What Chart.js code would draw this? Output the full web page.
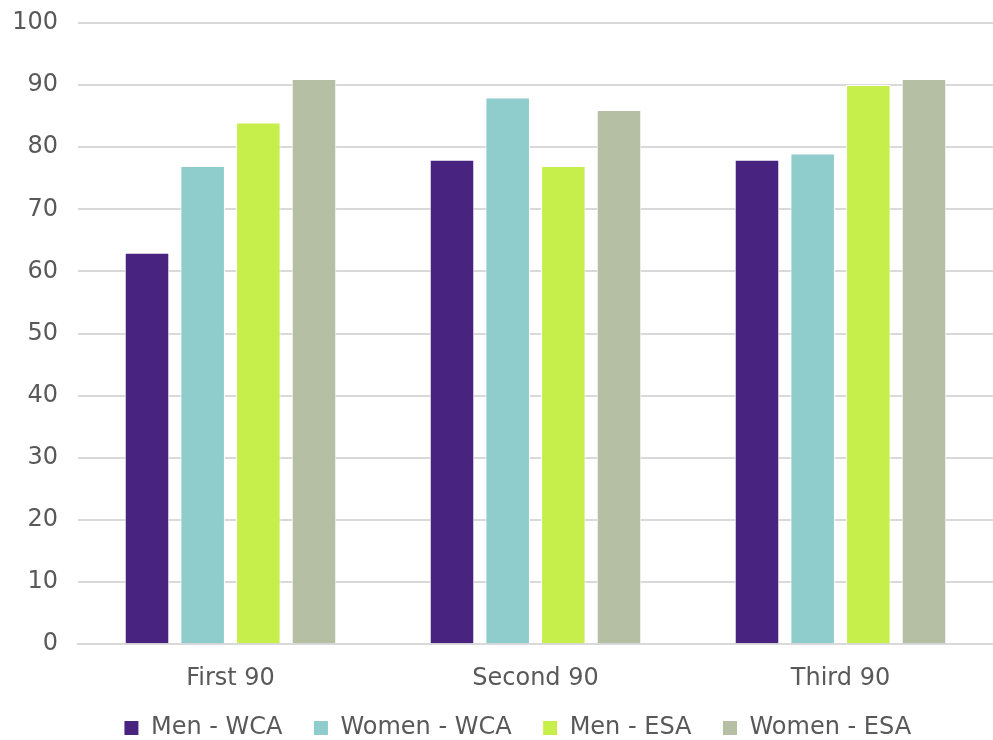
<!DOCTYPE html>
<html>
<head>
<meta charset="utf-8">
<script src="https://cdn.jsdelivr.net/npm/chart.js@4"></script>
<style>
  html, body { margin: 0; padding: 0; background: #fff; }
  #wrap { width: 993px; height: 740px; }
</style>
</head>
<body>
<div id="wrap"><canvas id="chart"></canvas></div>
<script>
const categories = ["First 90", "Second 90", "Third 90"];
const menWCA = [63, 78, 78];
const womenWCA = [77, 88, 79];
const menESA = [84, 77, 90];
const womenESA = [91, 86, 91];
const yTicks = [0, 10, 20, 30, 40, 50, 60, 70, 80, 90, 100];

const font = { family: "'DejaVu Sans', Verdana, sans-serif", size: 24 };

function series(label, data, color) {
  return {
    label: label,
    data: data,
    backgroundColor: color,
    borderColor: "#ffffff",
    borderWidth: 1,
    barPercentage: 0.8,
    categoryPercentage: 0.73,
  };
}

// legend needs wide horizontal gaps but only a short strip at the bottom
const legendSpot = {
  id: "legendSpot",
  beforeInit(chart) {
    const fit = chart.legend.fit;
    chart.legend.fit = function () {
      fit.call(this);
      this.height = 27;
    };
  },
  beforeDraw(chart) {
    const lg = chart.legend;
    lg.top = 685;
    lg.bottom = 745;
    lg.left = 21;
    lg.right = 1014;
  },
};

new Chart(document.getElementById("chart").getContext("2d"), {
  type: "bar",
  data: {
    labels: categories,
    datasets: [
      series("Men - WCA", menWCA, "#48237f"),
      series("Women - WCA", womenWCA, "#8ecdcc"),
      series("Men - ESA", menESA, "#c7ef4c"),
      series("Women - ESA", womenESA, "#b4bfa4"),
    ],
  },
  plugins: [legendSpot],
  options: {
    responsive: true,
    maintainAspectRatio: false,
    animation: false,
    layout: { padding: 0 },
    plugins: {
      tooltip: { enabled: false },
      legend: {
        position: "bottom",
        labels: {
          font: font,
          color: "#595959",
          boxWidth: 15,
          boxHeight: 15,
          padding: 31,
          useBorderRadius: false,
        },
      },
    },
    scales: {
      y: {
        min: 0,
        max: 100,
        afterBuildTicks: (axis) => {
          axis.ticks = yTicks.map((v) => ({ value: v }));
        },
        afterFit: (axis) => {
          axis.width = 78;
          axis.paddingTop = 23;
        },
        ticks: { font: font, color: "#595959", padding: 20 },
        grid: { color: "#d9d9d9", lineWidth: 2, drawTicks: false },
        border: { display: false },
      },
      x: {
        ticks: { font: font, color: "#595959", padding: 20 },
        grid: { display: false, drawTicks: false },
        border: { display: true, color: "#d9d9d9", width: 2 },
      },
    },
  },
});
</script>
</body>
</html>
